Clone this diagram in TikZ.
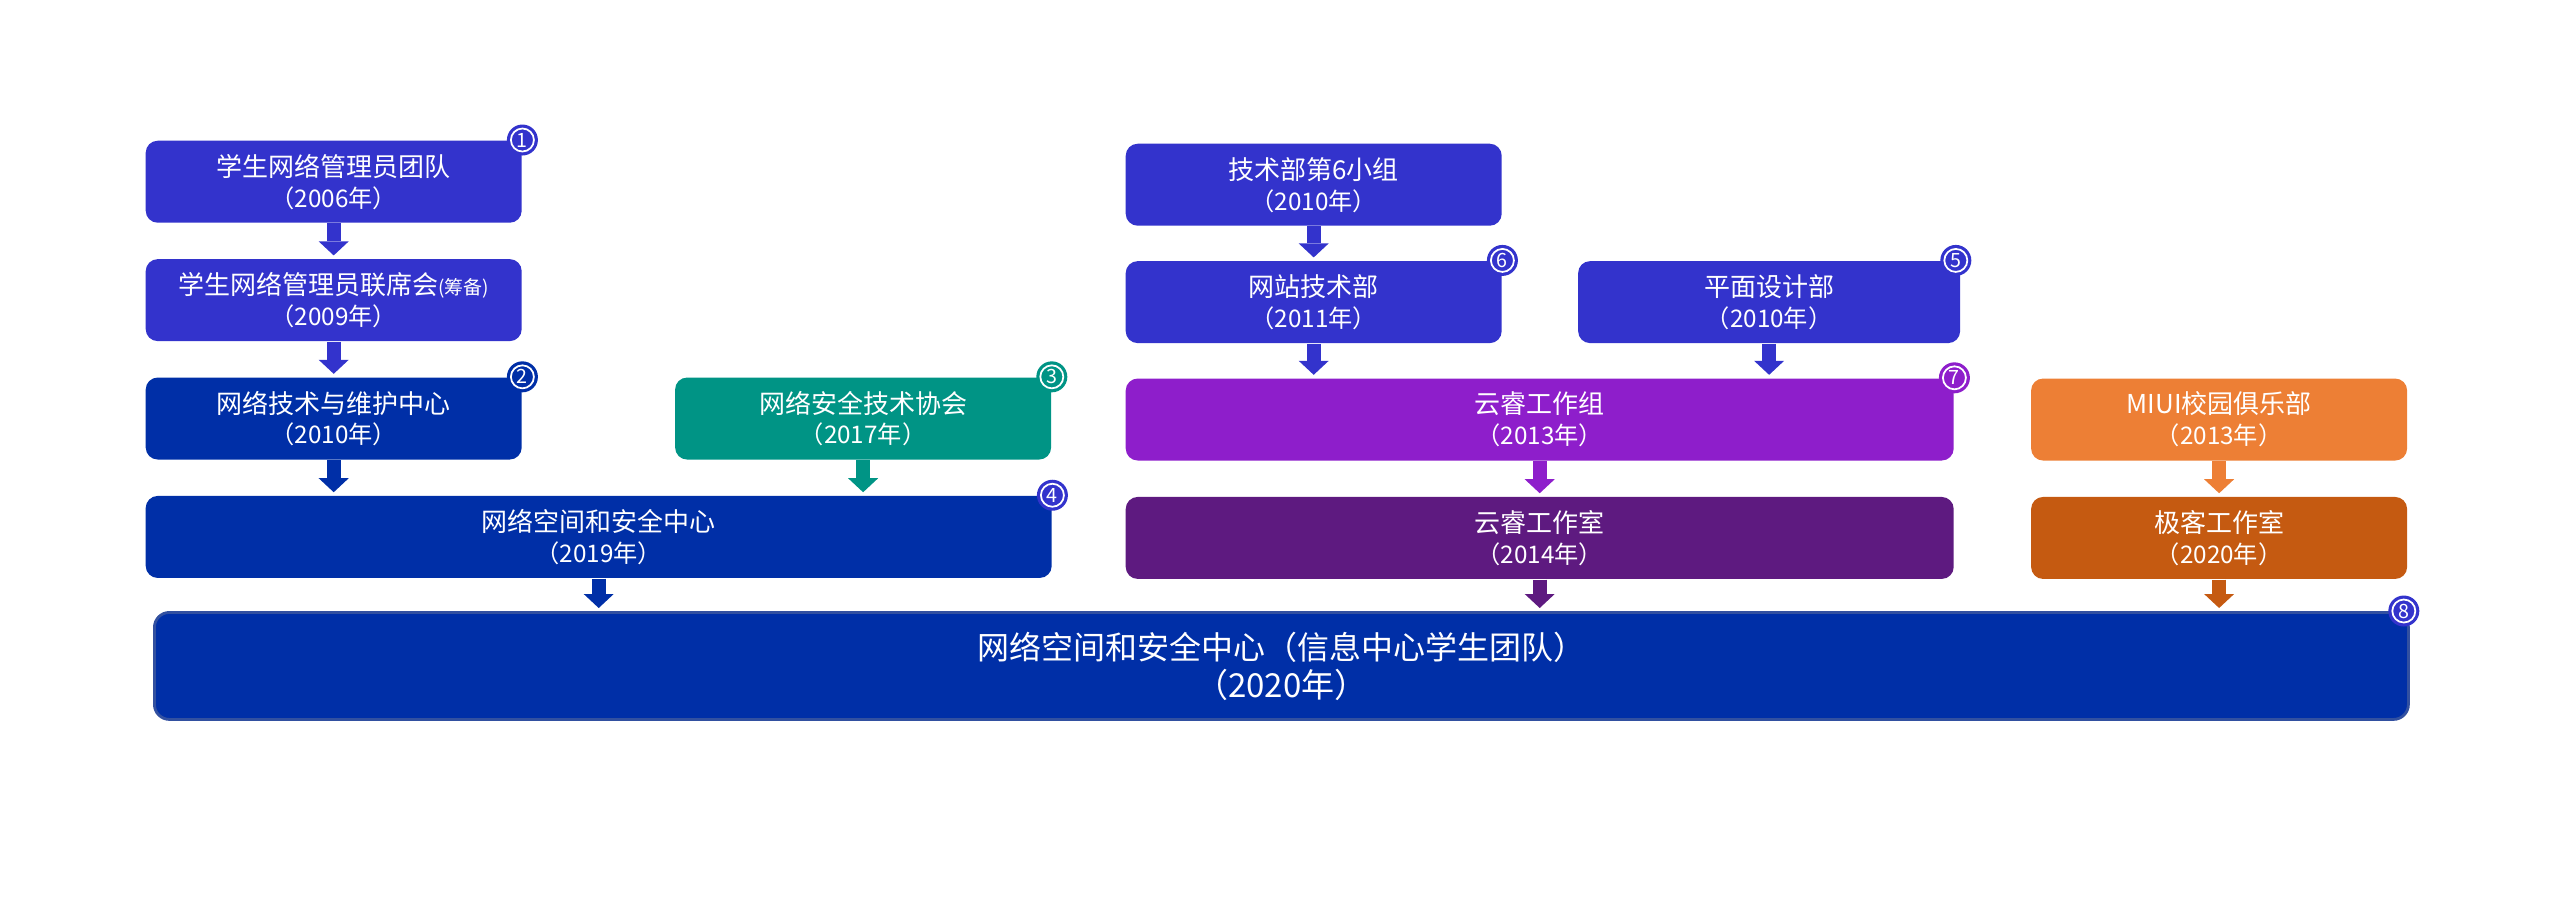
\documentclass[tikz,border=0pt]{standalone}
\usepackage{fontspec}
\setmainfont{Noto Sans CJK SC}
\usepackage{tikz}
\usetikzlibrary{arrows.meta, positioning}
\usepackage{xcolor}
\definecolor{indigoblue}{RGB}{51,51,204}
\definecolor{navyblue}{RGB}{0,47,167}
\definecolor{tealgreen}{RGB}{0,148,133}
\definecolor{cloudpurple}{RGB}{142,30,203}
\definecolor{deeppurple}{RGB}{94,26,128}
\definecolor{miuiorange}{RGB}{237,127,53}
\definecolor{geekorange}{RGB}{197,90,17}
\definecolor{edgeblue}{RGB}{50,80,160}
\newcommand{\yearline}[1]{{\fontsize{6.9pt}{8.8pt}\selectfont #1}}
\newcommand{\smallnote}[1]{{\fontsize{5.4pt}{8.8pt}\selectfont #1}}
\tikzset{
  stage/.style={
    rectangle, rounded corners=0.12cm,
    minimum width=3.76cm, minimum height=0.82cm,
    inner sep=0pt, align=center, text=white,
    font=\fontsize{7.4pt}{8.8pt}\selectfont
  },
  mergestage/.style={
    rectangle, rounded corners=0.15cm,
    minimum width=22.54cm, minimum height=1.07cm,
    inner sep=0pt, align=center, text=white,
    fill=navyblue, draw=edgeblue, line width=0.8pt,
    font=\fontsize{9.1pt}{10.8pt}\selectfont
  },
  badge/.style={
    circle, minimum size=0.31cm, inner sep=0pt, text=white,
    font=\fontsize{5.6pt}{6pt}\selectfont,
    path picture={\draw[white, line width=0.5pt]
      (path picture bounding box.center) circle (0.115cm);}
  },
  flow/.style={
    -{Triangle[length=0.14cm, width=0.30cm, line width=0pt]},
    line width=0.14cm, shorten >=0.03cm
  },
}

\begin{document}
\begin{tikzpicture}[node distance=0.35cm]
  \useasboundingbox (0,0) rectangle (25.6,-9.08);

  % Left column: network centre line
  \node[stage, fill=indigoblue, anchor=north west] (team) at (1.45,-1.40)
        {学生网络管理员团队\\\yearline{（2006年）}};
  \node[stage, fill=indigoblue, below=of team] (council)
        {学生网络管理员联席会\smallnote{(筹备)}\\\yearline{（2009年）}};
  \node[stage, fill=navyblue, below=of council] (maintain)
        {网络技术与维护中心\\\yearline{（2010年）}};
  \node[stage, fill=tealgreen, right=1.52cm of maintain] (security)
        {网络安全技术协会\\\yearline{（2017年）}};
  \node[stage, fill=navyblue, minimum width=9.06cm,
        below right=0.35cm and 0cm of maintain.south west] (cyber)
        {网络空间和安全中心\\\yearline{（2019年）}};

  % Middle column: cloud studio line
  \node[stage, fill=indigoblue, anchor=north west] (group6) at (11.25,-1.43)
        {技术部第6小组\\\yearline{（2010年）}};
  \node[stage, fill=indigoblue, below=0.34cm of group6] (website)
        {网站技术部\\\yearline{（2011年）}};
  \node[stage, fill=indigoblue, minimum width=3.82cm, right=0.75cm of website] (design)
        {平面设计部\\\yearline{（2010年）}};
  \node[stage, fill=cloudpurple, minimum width=8.28cm,
        below right=0.34cm and 0cm of website.south west] (cloudgroup)
        {云睿工作组\\\yearline{（2013年）}};
  \node[stage, fill=deeppurple, minimum width=8.28cm, below=of cloudgroup] (cloudstudio)
        {云睿工作室\\\yearline{（2014年）}};

  % Right column: MIUI line
  \node[stage, fill=miuiorange, right=0.76cm of cloudgroup] (miui)
        {MIUI校园俱乐部\\\yearline{（2013年）}};
  \node[stage, fill=geekorange, below=of miui] (geek)
        {极客工作室\\\yearline{（2020年）}};

  % Merged centre
  \node[mergestage, anchor=north west] (merged) at (1.53,-6.11)
        {网络空间和安全中心（信息中心学生团队）\\{\fontsize{9.4pt}{10.8pt}\selectfont （2020年）}};

  % Arrows
  \draw[flow, indigoblue] (team) -- (council);
  \draw[flow, indigoblue] (council) -- (maintain);
  \draw[flow, navyblue] (maintain) -- (maintain.south |- cyber.north);
  \draw[flow, tealgreen] (security) -- (security.south |- cyber.north);
  \draw[flow, navyblue] (cyber) -- (cyber.south |- merged.north);
  \draw[flow, indigoblue] (group6) -- (website);
  \draw[flow, indigoblue] (website) -- (website.south |- cloudgroup.north);
  \draw[flow, indigoblue] (design) -- (design.south |- cloudgroup.north);
  \draw[flow, cloudpurple] (cloudgroup) -- (cloudstudio);
  \draw[flow, deeppurple] (cloudstudio) -- (cloudstudio.south |- merged.north);
  \draw[flow, miuiorange] (miui) -- (geek);
  \draw[flow, geekorange] (geek) -- (geek.south |- merged.north);

  % Number badges
  \node[badge, fill=indigoblue] (b1) at (team.north east) {1};
  \node[badge, fill=navyblue] (b2) at (maintain.north east) {2};
  \node[badge, fill=tealgreen] (b3) at (security.north east) {3};
  \node[badge, fill=indigoblue] (b4) at (cyber.north east) {4};
  \node[badge, fill=indigoblue] (b5) at ([xshift=-0.05cm]design.north east) {5};
  \node[badge, fill=indigoblue] (b6) at (website.north east) {6};
  \node[badge, fill=cloudpurple] (b7) at (cloudgroup.north east) {7};
  \node[badge, fill=indigoblue] (b8) at ([xshift=-0.06cm]merged.north east) {8};

\end{tikzpicture}
\end{document}
